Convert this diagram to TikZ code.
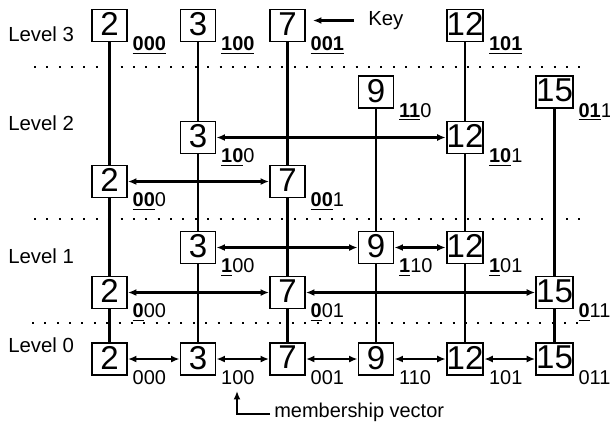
\documentclass[tikz,border=0pt]{standalone}
\usepackage{fontspec}
\setmainfont{Liberation Sans}
\usepackage{tikz}
\usetikzlibrary{arrows.meta,positioning,calc}
\newcommand{\mvbit}[1]{\underline{\textbf{#1}}}
\tikzset{
    keybox/.style={draw,line width=1.4pt,fill=white,minimum width=0.875cm,minimum height=0.8cm,
        inner sep=0pt,text depth=0.07cm,font=\fontsize{23.5}{24}\selectfont},
    vec/.style={anchor=base west,inner sep=0pt,font=\fontsize{14.2}{17}\selectfont},
    lvl/.style={anchor=west,inner sep=0pt,font=\fontsize{14.5}{17}\selectfont},
    tower/.style={line width=1.5pt},
    link/.style={{Latex[length=6pt,width=5pt]}-{Latex[length=6pt,width=5pt]},line width=1.5pt},
    arr/.style={-{Latex[length=6pt,width=5pt]},line width=1.5pt},
    sep/.style={line width=1.4pt,dash pattern=on 1.4pt off 7.4pt}
}

\begin{document}
\begin{tikzpicture}[x=0.025cm,y=-0.025cm]
  \useasboundingbox (0,0) rectangle (610,423);
  % level separators
  \draw[sep] (34,67) -- (582,67);
  \draw[sep] (34,219) -- (582,219);
  \draw[sep] (32,323) -- (580,323);
  % level names
  \node[lvl] (lv3) at (8,34)  {Level 3};
  \node[lvl] (lv2) at (8,123) {Level 2};
  \node[lvl] (lv1) at (8,256) {Level 1};
  \node[lvl] (lv0) at (8,345) {Level 0};
  % level 0: every key
  \foreach \k/\x in {2/109.5,3/198,7/287.5,9/376,12/465,15/554.5}
    \node[keybox] (k\k-0) at (\x,359) {\k};
  % level 1
  \foreach \k/\x in {3/198,9/376,12/465}
    \node[keybox] (k\k-1) at (\x,247.5) {\k};
  \foreach \k/\x in {2/109.5,7/287.5,15/554.5}
    \node[keybox] (k\k-1) at (\x,292.5) {\k};
  % level 2
  \foreach \k/\x in {9/376,15/554.5}
    \node[keybox] (k\k-2) at (\x,92) {\k};
  \foreach \k/\x in {3/198,12/465}
    \node[keybox] (k\k-2) at (\x,137.5) {\k};
  \foreach \k/\x in {2/109.5,7/287.5}
    \node[keybox] (k\k-2) at (\x,181.5) {\k};
  % level 3
  \foreach \k/\x in {2/109.5,3/198,7/287.5,12/465}
    \node[keybox] (k\k-3) at (\x,25.5) {\k};
  % towers
  \foreach \k in {2,3,7,12}
    \draw[tower] (k\k-3) -- (k\k-2);
  \foreach \k in {2,3,7,9,12,15} {
    \draw[tower] (k\k-2) -- (k\k-1);
    \draw[tower] (k\k-1) -- (k\k-0);
  }
  % lists
  \draw[link] (k3-2) -- (k12-2);
  \draw[link] (k2-2) -- (k7-2);
  \draw[link] (k3-1) -- (k9-1);
  \draw[link] (k9-1) -- (k12-1);
  \draw[link] (k2-1) -- (k7-1);
  \draw[link] (k7-1) -- (k15-1);
  \foreach \a/\b in {2/3,3/7,7/9,9/12,12/15}
    \draw[link] (k\a-0) -- (k\b-0);
  % membership vectors
  \foreach \k/\v in {2/\mvbit{000},3/\mvbit{100},7/\mvbit{001},12/\mvbit{101}}
    \node[vec] (v\k-3) at ([xshift=0.11cm,yshift=-0.21cm]k\k-3.south east) {\v};
  \foreach \k/\v in {9/\mvbit{11}0,15/\mvbit{01}1,3/\mvbit{10}0,12/\mvbit{10}1,2/\mvbit{00}0,7/\mvbit{00}1}
    \node[vec] (v\k-2) at ([xshift=0.11cm,yshift=-0.21cm]k\k-2.south east) {\v};
  \foreach \k/\v in {3/\mvbit{1}00,9/\mvbit{1}10,12/\mvbit{1}01,2/\mvbit{0}00,7/\mvbit{0}01,15/\mvbit{0}11}
    \node[vec] (v\k-1) at ([xshift=0.11cm,yshift=-0.21cm]k\k-1.south east) {\v};
  \foreach \k/\v in {2/000,3/100,7/001,9/110,12/101,15/011}
    \node[vec] (v\k-0) at ([xshift=0.11cm,yshift=-0.21cm]k\k-0.south east) {\v};
  % annotations
  \node[lvl] (keylbl) at (368,20.5) {Key};
  \coordinate (keytip) at (313,20.5);
  \draw[arr,shorten <=0.35cm] (keylbl.west) -- (keytip);
  \node[vec] (mvlbl) at (274,417) {membership vector};
  \coordinate (mvtip) at (237,391);
  \draw[arr] ([xshift=-0.1cm,yshift=2.1pt]mvlbl.base west) -| (mvtip);
\end{tikzpicture}
\end{document}
